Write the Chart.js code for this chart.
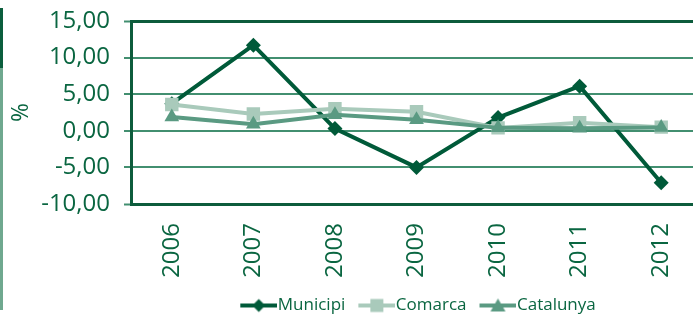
<!DOCTYPE html>
<html>
<head>
<meta charset="utf-8">
<script src="https://cdn.jsdelivr.net/npm/chart.js@4.4.1/dist/chart.umd.min.js"></script>
<style>
  html, body { margin: 0; padding: 0; background: #fff; }
  #wrap { position: relative; width: 693px; height: 317px; overflow: hidden; }
  #chart { position: absolute; left: 0; top: 0; }
  .bar { position: absolute; left: 0; width: 3px; z-index: 2; }
  .bar.dark { top: 8px; height: 60px; background: #0b5e3d; }
  .bar.light { top: 68px; height: 242px; background: #6fa88f; }
</style>
</head>
<body>
<div id="wrap">
  <div class="bar dark"></div>
  <div class="bar light"></div>
  <canvas id="chart" width="702" height="324"></canvas>
</div>
<script>
  // Data
  const years = ['2006', '2007', '2008', '2009', '2010', '2011', '2012'];
  const municipi = [3.7, 11.7, 0.3, -5.0, 1.8, 6.1, -7.1];
  const comarca = [3.6, 2.3, 3.0, 2.6, 0.4, 1.1, 0.5];
  const catalunya = [1.9, 0.9, 2.2, 1.5, 0.4, 0.35, 0.45];
  const yTicks = [-10, -5, 0, 5, 10, 15];

  const TEXT = '#0a6641';
  const DARK = '#0d5c3c';
  const GRID = '#428f70';
  const FONT = "'Open Sans', sans-serif";

  /**
   * Legend icon: a short line with the marker in the middle
   */
  function legendIcon(color, shape) {
    const c = document.createElement('canvas');
    c.width = 48;
    c.height = 16;
    const g = c.getContext('2d');
    const x0 = 11, x1 = 48, cy = 8, cx = (x0 + x1) / 2;
    g.strokeStyle = color;
    g.fillStyle = color;
    g.lineWidth = 4;
    g.beginPath();
    g.moveTo(x0, cy);
    g.lineTo(x1, cy);
    g.stroke();
    g.beginPath();
    if (shape === 'diamond') {
      g.moveTo(cx, cy - 6.5); g.lineTo(cx + 6.5, cy); g.lineTo(cx, cy + 6.5); g.lineTo(cx - 6.5, cy);
    } else if (shape === 'square') {
      g.rect(cx - 6.5, cy - 6.5, 13, 13);
    } else {
      g.moveTo(cx, cy - 7); g.lineTo(cx + 7.5, cy + 6); g.lineTo(cx - 7.5, cy + 6);
    }
    g.closePath();
    g.fill();
    return c;
  }

  const series = [
    { label: 'Municipi', data: municipi, color: '#005a39', style: 'rectRot', radius: 7.5, icon: 'diamond', order: 3 },
    { label: 'Comarca', data: comarca, color: '#a9cabb', style: 'rect', radius: 9.5, icon: 'square', order: 2 },
    { label: 'Catalunya', data: catalunya, color: '#5a9a82', style: 'triangle', radius: 8.5, icon: 'triangle', order: 1 }
  ];

  const datasets = series.map(function(s) {
    return {
      label: s.label,
      data: s.data,
      borderColor: s.color,
      backgroundColor: s.color,
      borderWidth: 4,
      pointStyle: s.style,
      pointRadius: s.radius,
      pointBorderWidth: 0,
      pointBackgroundColor: s.color,
      order: s.order,
      tension: 0
    };
  });

  const icons = series.map(function(s) { return legendIcon(s.color, s.icon); });

  new Chart(document.getElementById('chart'), {
    type: 'line',
    data: { labels: years, datasets: datasets },
    options: {
      responsive: false,
      animation: false,
      devicePixelRatio: 1,
      layout: { autoPadding: false, padding: { top: 21, left: 0, right: 0, bottom: 0 } },
      plugins: {
        tooltip: { enabled: false },
        legend: {
          position: 'bottom',
          fullSize: false,
          labels: {
            color: TEXT,
            font: { family: FONT, size: 17 },
            usePointStyle: true,
            pointStyleWidth: 32,
            padding: 10,
            sort: function(a, b) { return a.datasetIndex - b.datasetIndex; },
            generateLabels: function(chart) {
              return chart.data.datasets.map(function(ds, i) {
                return {
                  text: ds.label,
                  fillStyle: ds.borderColor,
                  strokeStyle: ds.borderColor,
                  lineWidth: 0,
                  pointStyle: icons[i],
                  fontColor: TEXT,
                  hidden: false,
                  datasetIndex: i
                };
              });
            }
          }
        }
      },
      scales: {
        x: {
          offset: true,
          grid: { display: false, drawTicks: false },
          border: { display: true, color: DARK, width: 3 },
          ticks: {
            color: TEXT,
            font: { family: FONT, size: 24 },
            minRotation: 90,
            maxRotation: 90,
            autoSkip: false,
            padding: 19
          },
          afterFit: function(scale) {
            scale.height = 83;
            scale.paddingLeft = 0;
            scale.paddingRight = 0;
          }
        },
        y: {
          min: -10,
          max: 15,
          afterBuildTicks: function(scale) {
            scale.ticks = yTicks.map(function(v) { return { value: v }; });
          },
          grid: {
            color: function(ctx) {
              const v = ctx.tick && ctx.tick.value;
              return (v === 15 || v === -10) ? DARK : GRID;
            },
            lineWidth: function(ctx) {
              const v = ctx.tick && ctx.tick.value;
              return (v === 15 || v === -10) ? 3 : 2;
            },
            tickColor: GRID,
            tickWidth: 2,
            tickLength: 7
          },
          border: { display: true, color: DARK, width: 3 },
          ticks: {
            color: TEXT,
            font: { family: FONT, size: 24 },
            padding: 14,
            callback: function(v) { return v.toFixed(2).replace('.', ','); }
          },
          title: {
            display: true,
            text: '%',
            color: TEXT,
            font: { family: FONT, size: 23 },
            padding: { top: 8, bottom: 0 }
          },
          afterFit: function(scale) {
            scale.width = 131;
            scale.paddingTop = 0;
            scale.paddingBottom = 0;
          }
        }
      }
    }
  });
</script>
</body>
</html>
